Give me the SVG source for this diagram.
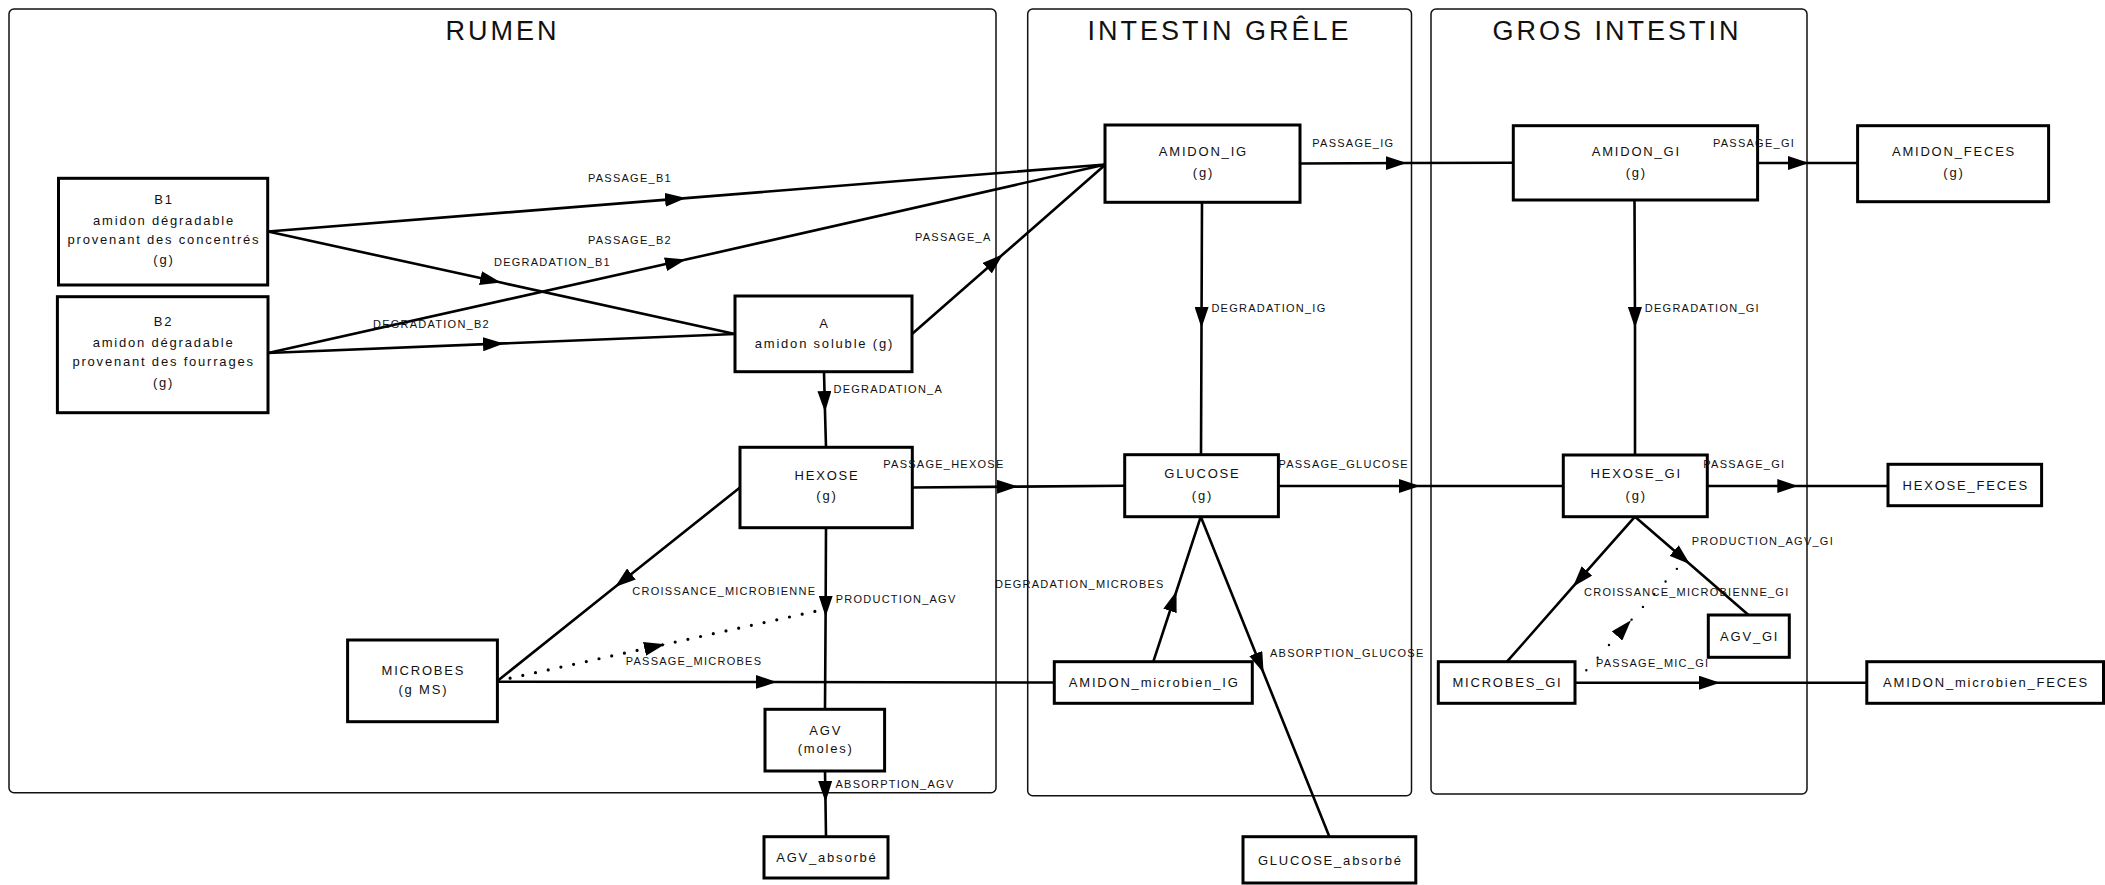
<svg xmlns="http://www.w3.org/2000/svg" width="2105" height="885" viewBox="0 0 2105 885">
<style>
.cont{fill:none;stroke:#111;stroke-width:1.5}
.title{font-family:"Liberation Sans",Arial,sans-serif;font-size:27px;letter-spacing:3px;fill:#111;text-anchor:middle}
.box{fill:#fff;stroke:#000;stroke-width:3}
.nt{font-family:"Liberation Sans",Arial,sans-serif;font-size:13px;letter-spacing:1.8px;fill:#111;text-anchor:middle}
.el{font-family:"Liberation Sans",Arial,sans-serif;font-size:11px;letter-spacing:1.25px;fill:#111}
.edge{fill:none;stroke:#000;stroke-width:2.6;marker-mid:url(#ah)}
.dot{fill:none;stroke:#000;stroke-width:3.2;stroke-linecap:round;stroke-dasharray:0 13;marker-mid:url(#ah)}
.dot2{fill:none;stroke:#000;stroke-width:2.4;stroke-linecap:round;stroke-dasharray:0 17;marker-mid:url(#ah)}
</style>
<defs>
<marker id="ah" markerUnits="userSpaceOnUse" viewBox="0 0 21 14" refX="21" refY="7" markerWidth="21" markerHeight="14" orient="auto">
<path d="M0,0 L21,7 L0,14 z" fill="#000"/>
</marker>
</defs>
<rect width="2105" height="885" fill="#fff"/>
<g id="containers">
<rect class="cont" x="9" y="9" width="987" height="783.7" rx="5"/>
<text class="title" x="502.5" y="40">RUMEN</text>
<rect class="cont" x="1027.7" y="9" width="383.8" height="786.7" rx="5"/>
<text class="title" x="1219.5" y="40">INTESTIN GRÊLE</text>
<rect class="cont" x="1431" y="9" width="376" height="785" rx="5"/>
<text class="title" x="1617" y="40">GROS INTESTIN</text>
</g>
<g id="connectors">
<path class="edge" d="M268,231.5 L686,198.1 L1105.5,164.5"/>
<path class="edge" d="M268,353 L686,259.6 L1105.5,164.5"/>
<path class="edge" d="M268,231.5 L501,282.6 L735,334"/>
<path class="edge" d="M268,353 L504,343.4 L735,334"/>
<path class="edge" d="M912,334 L1003,254.3 L1105.5,164.5"/>
<path class="edge" d="M824,372 L825,412 L826,447"/>
<path class="edge" d="M912,487.5 L1018,486.6 L1124.7,485.7"/>
<path class="edge" d="M740,487.5 L615,587 L497.4,681"/>
<path class="edge" d="M826,528 L825.6,616.7 L825,709"/>
<path class="dot" d="M497.4,681 L665,644.3 L826,609"/>
<path class="edge" d="M497.4,681.7 L776.7,682 L1054.3,682.5"/>
<path class="edge" d="M825,771 L825.5,802 L826,836.7"/>
<path class="edge" d="M1300,163.5 L1406.7,163 L1513.3,162.7"/>
<path class="edge" d="M1757.6,163 L1809,163 L1857.6,163"/>
<path class="edge" d="M1202,202.3 L1201.5,328 L1201,454.7"/>
<path class="edge" d="M1634.5,200 L1635,328 L1635,455"/>
<path class="edge" d="M1278.4,486 L1420,486 L1563.3,486"/>
<path class="edge" d="M1707.3,486 L1798.3,486 L1888,486"/>
<path class="edge" d="M1153.3,661.7 L1176.5,591 L1200.8,516.7"/>
<path class="edge" d="M1200.8,516.7 L1263.6,673 L1329.4,836.7"/>
<path class="edge" d="M1635,516.7 L1573,586.7 L1507,661.7"/>
<path class="edge" d="M1635,516.7 L1690,564.3 L1748.5,615"/>
<path class="dot2" d="M1575,683 L1631,620.3 L1683,562"/>
<path class="edge" d="M1575,682.7 L1720,682.7 L1866.8,682.7"/>
</g>
<g id="B1">
<rect class="box" x="58.5" y="178.3" width="209.2" height="106.7"/>
<text class="nt" x="164" y="204">B1</text>
<text class="nt" x="164" y="225.3">amidon dégradable</text>
<text class="nt" x="164" y="244.3">provenant des concentrés</text>
<text class="nt" x="164" y="264">(g)</text>
</g>
<g id="B2">
<rect class="box" x="57.4" y="296.7" width="210.6" height="116"/>
<text class="nt" x="163.6" y="325.7">B2</text>
<text class="nt" x="163.6" y="346.7">amidon dégradable</text>
<text class="nt" x="163.6" y="365.7">provenant des fourrages</text>
<text class="nt" x="163.6" y="387">(g)</text>
</g>
<g id="A">
<rect class="box" x="735" y="296" width="177" height="75.7"/>
<text class="nt" x="824.4" y="327.5">A</text>
<text class="nt" x="824.4" y="347.5">amidon soluble (g)</text>
</g>
<g id="HEXOSE">
<rect class="box" x="740" y="447.3" width="172.3" height="80.4"/>
<text class="nt" x="827" y="480">HEXOSE</text>
<text class="nt" x="827" y="500">(g)</text>
</g>
<g id="MICROBES">
<rect class="box" x="347.6" y="640" width="149.8" height="81.7"/>
<text class="nt" x="423.4" y="675">MICROBES</text>
<text class="nt" x="423.4" y="694">(g MS)</text>
</g>
<g id="AGV">
<rect class="box" x="765" y="709.3" width="119.6" height="61.7"/>
<text class="nt" x="825.7" y="734.5">AGV</text>
<text class="nt" x="825.7" y="753">(moles)</text>
</g>
<g id="AGV_absorbe">
<rect class="box" x="764" y="836.7" width="124" height="41.3"/>
<text class="nt" x="826.9" y="862">AGV_absorbé</text>
</g>
<g id="AMIDON_IG">
<rect class="box" x="1105" y="125" width="195" height="77.3"/>
<text class="nt" x="1203.4" y="156">AMIDON_IG</text>
<text class="nt" x="1203.4" y="177.3">(g)</text>
</g>
<g id="GLUCOSE">
<rect class="box" x="1124.7" y="454.7" width="153.7" height="62"/>
<text class="nt" x="1202.4" y="478.3">GLUCOSE</text>
<text class="nt" x="1202.4" y="500">(g)</text>
</g>
<g id="AMIDON_microbien_IG">
<rect class="box" x="1054.3" y="661.7" width="198" height="41.6"/>
<text class="nt" x="1154.2" y="686.5">AMIDON_microbien_IG</text>
</g>
<g id="GLUCOSE_absorbe">
<rect class="box" x="1243" y="836.7" width="172.8" height="46.3"/>
<text class="nt" x="1330.3" y="864.5">GLUCOSE_absorbé</text>
</g>
<g id="AMIDON_GI">
<rect class="box" x="1513.3" y="125.7" width="244.3" height="74.3"/>
<text class="nt" x="1636.3" y="156">AMIDON_GI</text>
<text class="nt" x="1636.3" y="177.3">(g)</text>
</g>
<g id="HEXOSE_GI">
<rect class="box" x="1563.3" y="455" width="144" height="61.7"/>
<text class="nt" x="1636.2" y="478.3">HEXOSE_GI</text>
<text class="nt" x="1636.2" y="500">(g)</text>
</g>
<g id="MICROBES_GI">
<rect class="box" x="1438.3" y="661.7" width="136.7" height="41.6"/>
<text class="nt" x="1507.5" y="686.5">MICROBES_GI</text>
</g>
<g id="AGV_GI">
<rect class="box" x="1708.3" y="615" width="81" height="42.3"/>
<text class="nt" x="1749.7" y="640.5">AGV_GI</text>
</g>
<g id="AMIDON_FECES">
<rect class="box" x="1857.6" y="125.7" width="191" height="76"/>
<text class="nt" x="1954" y="156">AMIDON_FECES</text>
<text class="nt" x="1954" y="177.3">(g)</text>
</g>
<g id="HEXOSE_FECES">
<rect class="box" x="1888" y="464.3" width="153.6" height="41.4"/>
<text class="nt" x="1965.7" y="489.5">HEXOSE_FECES</text>
</g>
<g id="AMIDON_microbien_FECES">
<rect class="box" x="1866.8" y="661.7" width="236.7" height="41.6"/>
<text class="nt" x="1986" y="686.5">AMIDON_microbien_FECES</text>
</g>
<g id="connector-labels">
<text class="el" x="588" y="182">PASSAGE_B1</text>
<text class="el" x="588" y="244">PASSAGE_B2</text>
<text class="el" x="494" y="265.7">DEGRADATION_B1</text>
<text class="el" x="373" y="328.3">DEGRADATION_B2</text>
<text class="el" x="915" y="241.3">PASSAGE_A</text>
<text class="el" x="833.5" y="393.3">DEGRADATION_A</text>
<text class="el" x="883.3" y="468.3">PASSAGE_HEXOSE</text>
<text class="el" x="632.3" y="595.3">CROISSANCE_MICROBIENNE</text>
<text class="el" x="835.7" y="603.3">PRODUCTION_AGV</text>
<text class="el" x="625.7" y="665">PASSAGE_MICROBES</text>
<text class="el" x="835.5" y="788.3">ABSORPTION_AGV</text>
<text class="el" x="1312.3" y="147.3">PASSAGE_IG</text>
<text class="el" x="1713" y="147.3">PASSAGE_GI</text>
<text class="el" x="1211.4" y="312.3">DEGRADATION_IG</text>
<text class="el" x="1644.8" y="312.3">DEGRADATION_GI</text>
<text class="el" x="1278.4" y="468.3">PASSAGE_GLUCOSE</text>
<text class="el" x="1703.3" y="468.3">PASSAGE_GI</text>
<text class="el" x="995" y="588">DEGRADATION_MICROBES</text>
<text class="el" x="1270" y="657.3">ABSORPTION_GLUCOSE</text>
<text class="el" x="1691.7" y="545">PRODUCTION_AGV_GI</text>
<text class="el" x="1584" y="596">CROISSANCE_MICROBIENNE_GI</text>
<text class="el" x="1596" y="666.7">PASSAGE_MIC_GI</text>
</g>
</svg>
